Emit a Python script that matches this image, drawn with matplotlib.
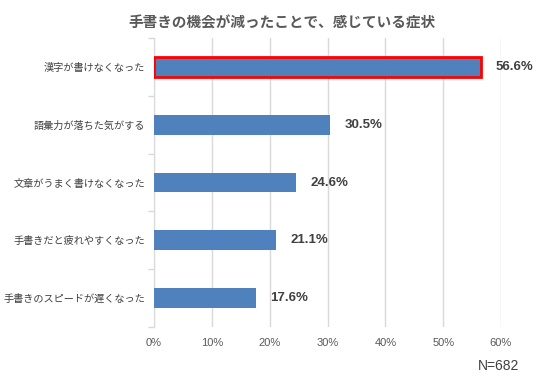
import matplotlib
matplotlib.use("Agg")
import matplotlib.pyplot as plt
from matplotlib.ticker import FixedLocator

plt.rcParams['font.family'] = ['Noto Sans CJK JP', 'DejaVu Sans']

categories = ["漢字が書けなくなった", "語彙力が落ちた気がする", "文章がうまく書けなくなった",
              "手書きだと疲れやすくなった", "手書きのスピードが遅くなった"]
values = [56.6, 30.5, 24.6, 21.1, 17.6]
xticks = [0, 10, 20, 30, 40, 50, 60]
xticklabels = ["0%", "10%", "20%", "30%", "40%", "50%", "60%"]
title = "手書きの機会が減ったことで、感じている症状"
note = "N=682"

fig = plt.figure(figsize=(5.36, 3.79), dpi=100)
ax = fig.add_axes([154/536, 1-327/379, 347/536, 289/379])

ypos = list(range(len(categories)))
bars = ax.barh(ypos, values, height=0.34, color="#4F81BD", zorder=3)
bars[0].set_edgecolor("#FF0000")
bars[0].set_linewidth(2)

for y, v in zip(ypos, values):
    ax.text(v + 2.5, y, f"{v:.1f}%", va="center", ha="left", fontsize=9.5,
            fontweight="bold", color="#404040", family=["Liberation Sans", "DejaVu Sans"])

ax.set_xlim(0, 60)
ax.set_ylim(len(categories) - 0.5, -0.5)
ax.set_xticks(xticks)
ax.set_xticklabels(xticklabels, fontsize=8, color="#595959", family=["Liberation Sans", "DejaVu Sans"])
ax.set_yticks(ypos)
ax.set_yticklabels(categories, fontsize=7.3, color="#404040")
ax.yaxis.set_minor_locator(FixedLocator([i - 0.5 for i in range(len(categories) + 1)]))
ax.tick_params(axis="y", which="major", length=0, pad=6.5)
ax.tick_params(axis="y", which="minor", length=4, color="#D9D9D9", width=1)
ax.tick_params(axis="x", length=0, pad=8)
ax.grid(axis="x", color="#D9D9D9", linewidth=1, zorder=0)
for s in ["top", "right", "bottom"]:
    ax.spines[s].set_visible(False)
ax.spines["left"].set_color("#D9D9D9")

fig.text(282/536, 1-22/379, title, ha="center", va="center", fontsize=10.5,
         fontweight="bold", color="#595959")
fig.text(499/536, 1-366/379, note, ha="center", va="center", fontsize=10, color="#404040",
         family=["Liberation Sans", "DejaVu Sans"])

fig.savefig("out.png", dpi=100)
